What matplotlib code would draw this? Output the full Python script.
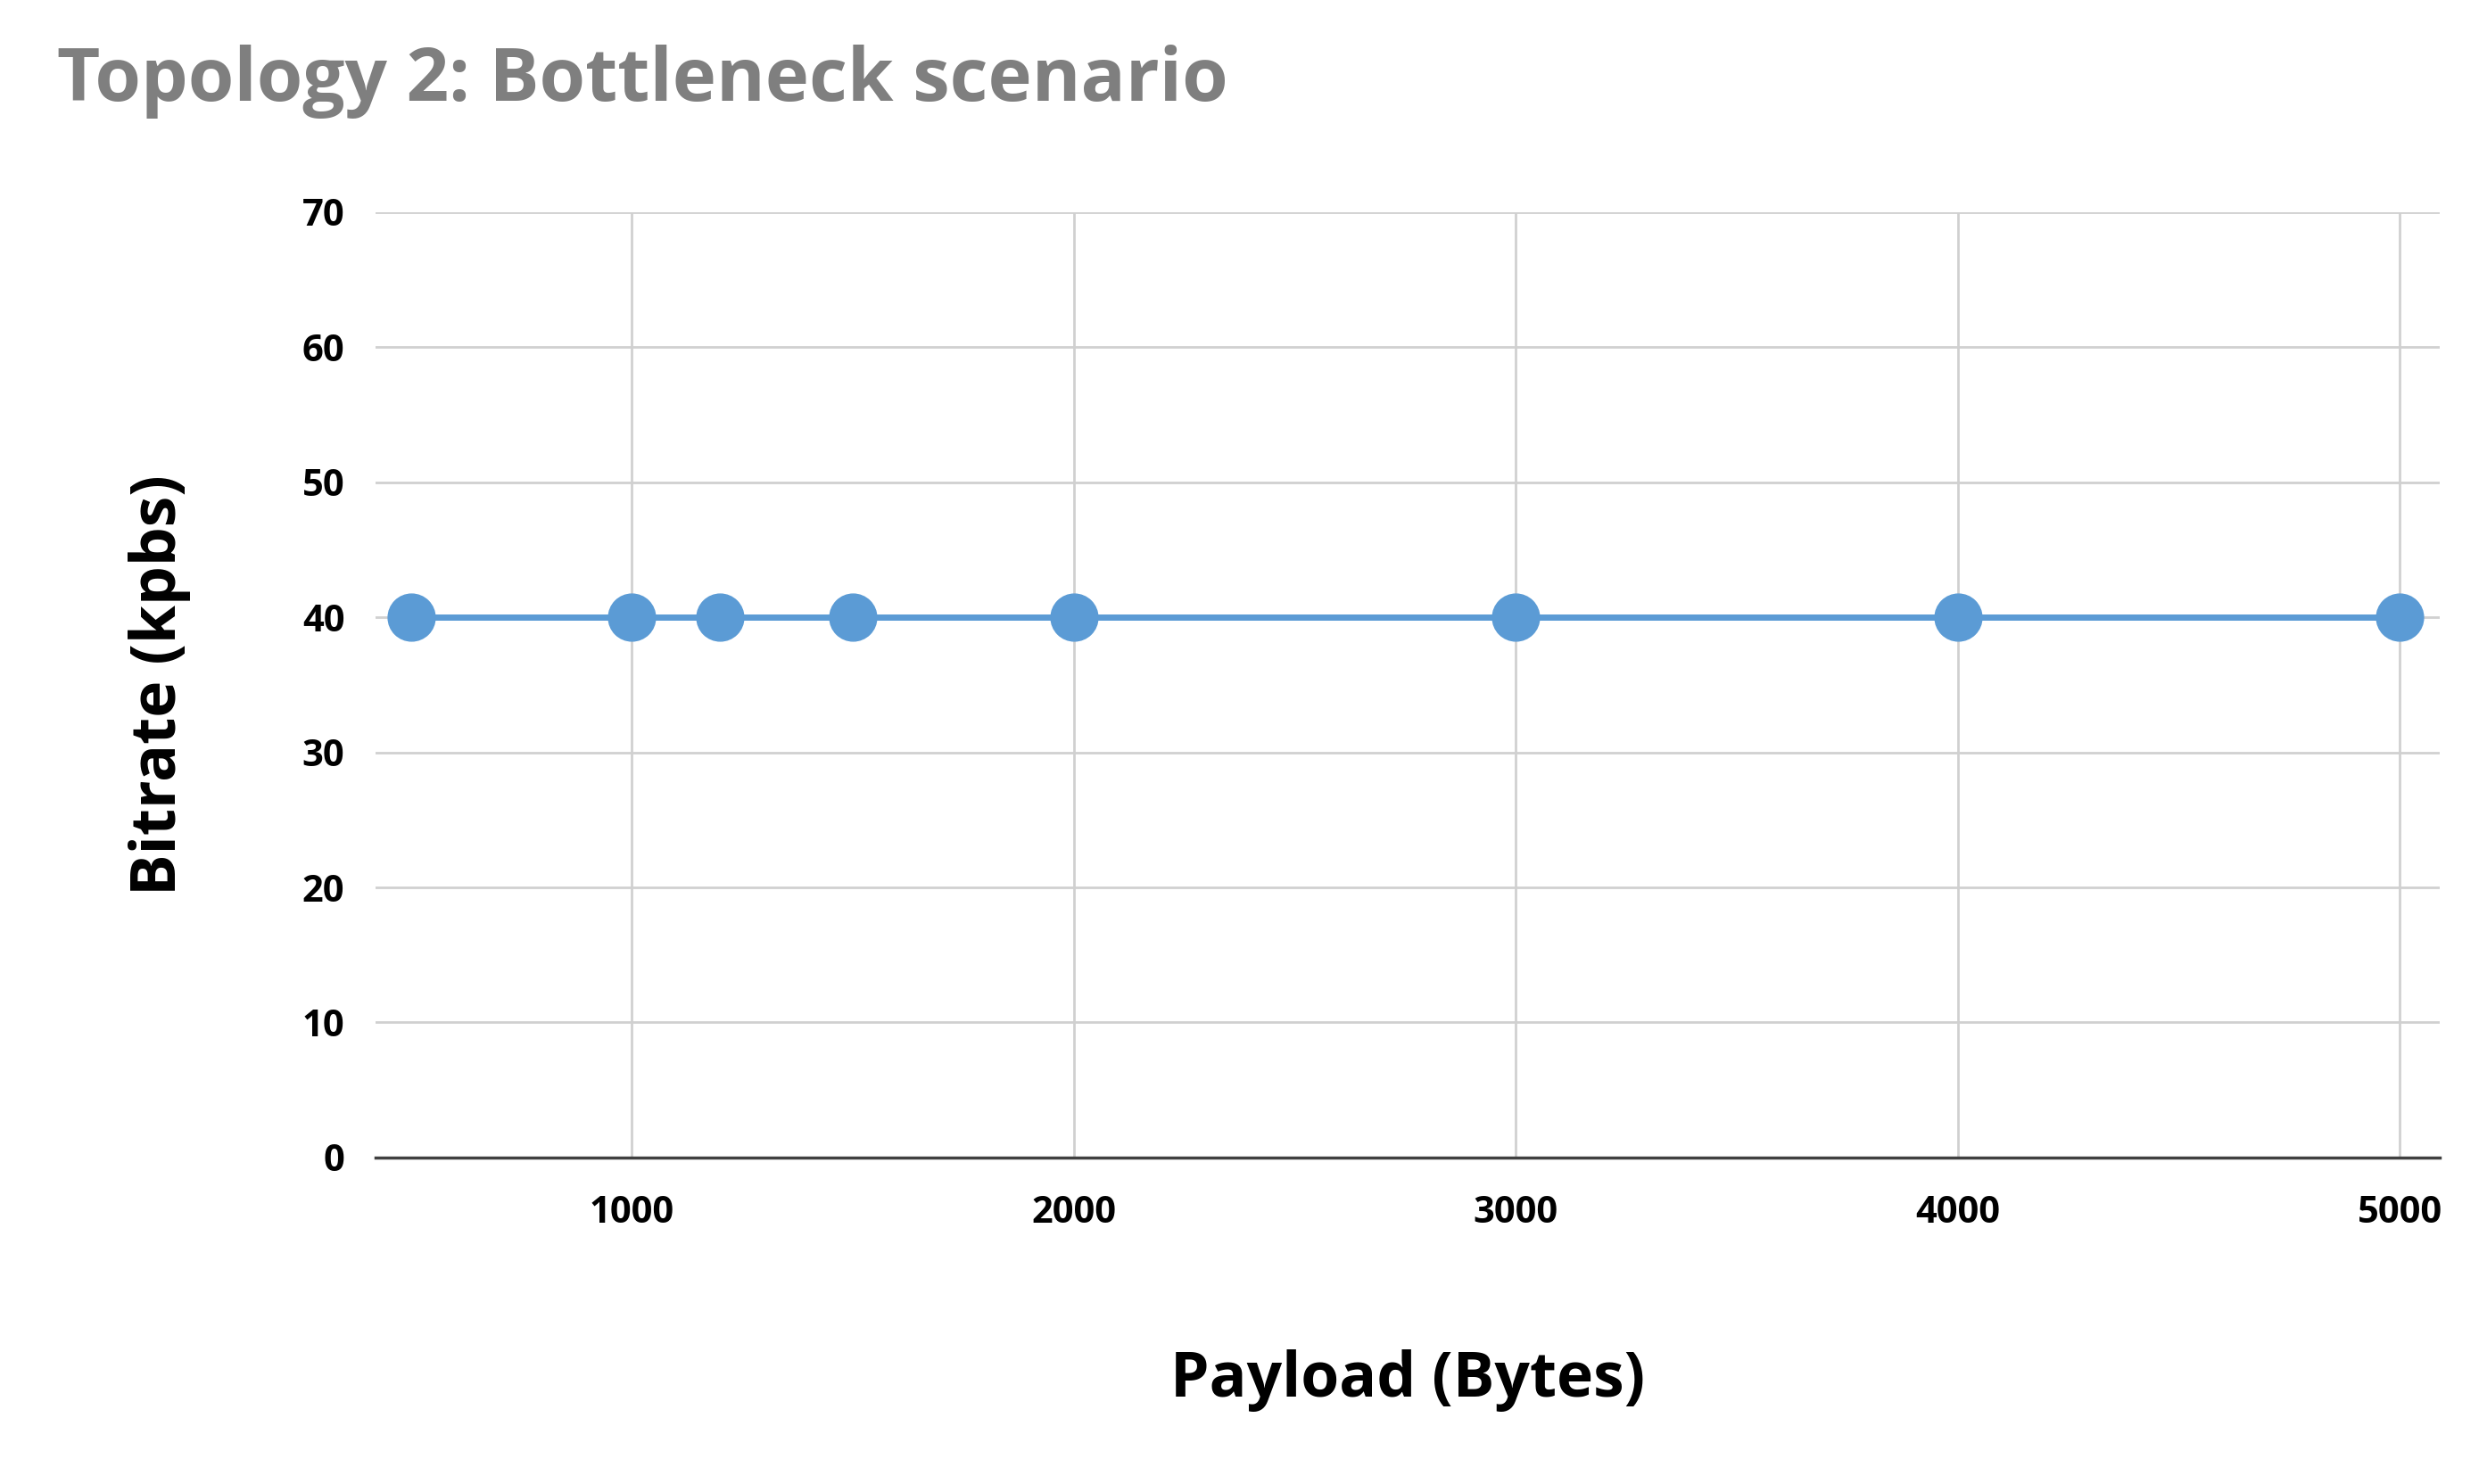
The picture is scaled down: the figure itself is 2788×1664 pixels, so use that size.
import matplotlib
matplotlib.use("Agg")
import matplotlib.pyplot as plt

payload = [500, 1000, 1200, 1500, 2000, 3000, 4000, 5000]
bitrate = [40, 40, 40, 40, 40, 40, 40, 40]
xticks = [1000, 2000, 3000, 4000, 5000]
yticks = [0, 10, 20, 30, 40, 50, 60, 70]

plt.rcParams['font.family'] = ['Open Sans', 'DejaVu Sans']
fig = plt.figure(figsize=(27.88, 16.64), dpi=100)
ax = fig.add_axes([0.151, 0.220, 0.830, 0.637])
ax.plot(payload, bitrate, color='#5b9bd5', lw=5, marker='o', ms=38, zorder=3)
ax.set_xlim(420, 5090)
ax.set_ylim(0, 70)
ax.set_xticks(xticks)
ax.set_yticks(yticks)
ax.grid(True, color='#d0d0d0', lw=2)
for s in ['top', 'right', 'left']:
    ax.spines[s].set_visible(False)
ax.spines['bottom'].set_color('#404040')
ax.spines['bottom'].set_linewidth(2.5)
ax.tick_params(length=0, labelsize=30, pad=30)
for t in ax.get_xticklabels() + ax.get_yticklabels():
    t.set_fontweight('bold')
ax.tick_params(axis='y', pad=25)
ax.set_xlabel('Payload (Bytes)', fontsize=50, fontweight='bold', labelpad=95)
ax.set_ylabel('Bitrate (kpbs)', fontsize=50, fontweight='bold', labelpad=90)
fig.text(0.023, 0.945, 'Topology 2: Bottleneck scenario', fontsize=60,
         fontweight='bold', color='#7f7f7f', va='center')
fig.savefig('out.png')
